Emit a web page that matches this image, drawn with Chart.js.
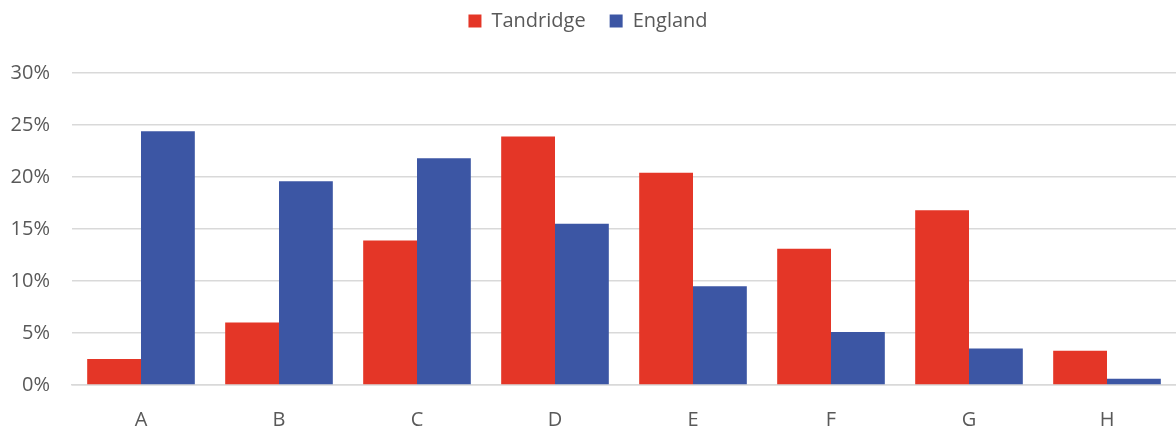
<!DOCTYPE html>
<html>
<head>
<meta charset="utf-8">
<script src="https://cdn.jsdelivr.net/npm/chart.js@4/dist/chart.umd.min.js"></script>
<style>
  html, body { margin: 0; padding: 0; background: #fff; }
  #wrap { width: 1176px; height: 428px; }
</style>
</head>
<body>
<div id="wrap"><canvas id="chart"></canvas></div>
<script>
const categories = ['A', 'B', 'C', 'D', 'E', 'F', 'G', 'H'];
const tandridge = [2.5, 6.0, 13.9, 23.9, 20.4, 13.1, 16.8, 3.3];
const england = [24.4, 19.6, 21.8, 15.5, 9.5, 5.1, 3.5, 0.6];

Chart.defaults.font.family = "'Open Sans', 'Liberation Sans', sans-serif";
Chart.defaults.color = '#595959';

// push the plot area down below the legend
const legendGap = {
    id: 'legendGap',
    beforeInit(chart) {
        const fit = chart.legend.fit;
        chart.legend.fit = function () {
            fit.bind(chart.legend)();
            this.height = 86;
        };
    }
};

const ctx = document.getElementById('chart').getContext('2d');
new Chart(ctx, {
    type: 'bar',
    data: {
        labels: categories,
        datasets: [
            { label: 'Tandridge', data: tandridge, backgroundColor: '#E43627' },
            { label: 'England', data: england, backgroundColor: '#3C56A4' }
        ]
    },
    options: {
        responsive: true,
        maintainAspectRatio: false,
        animation: false,
        layout: { padding: { top: -13, left: 0, right: 0, bottom: 0 } },
        datasets: { bar: { categoryPercentage: 0.78, barPercentage: 1.0 } },
        plugins: {
            legend: {
                position: 'top',
                labels: { boxWidth: 13, boxHeight: 13, padding: 24, font: { size: 20 }, color: '#595959' }
            },
            tooltip: { enabled: false }
        },
        scales: {
            x: {
                grid: { display: false },
                border: { color: '#d9d9d9', width: 1.5 },
                ticks: { font: { size: 20 }, padding: 15 },
                afterFit: s => { s.height = 43; }
            },
            y: {
                min: 0,
                max: 30,
                ticks: {
                    stepSize: 5,
                    font: { size: 20 },
                    padding: 22,
                    callback: v => v + '%'
                },
                grid: { color: '#d9d9d9', lineWidth: 1.5, drawTicks: false },
                border: { display: false },
                afterFit: s => { s.width = 72; }
            }
        }
    },
    plugins: [legendGap]
});
</script>
</body>
</html>
